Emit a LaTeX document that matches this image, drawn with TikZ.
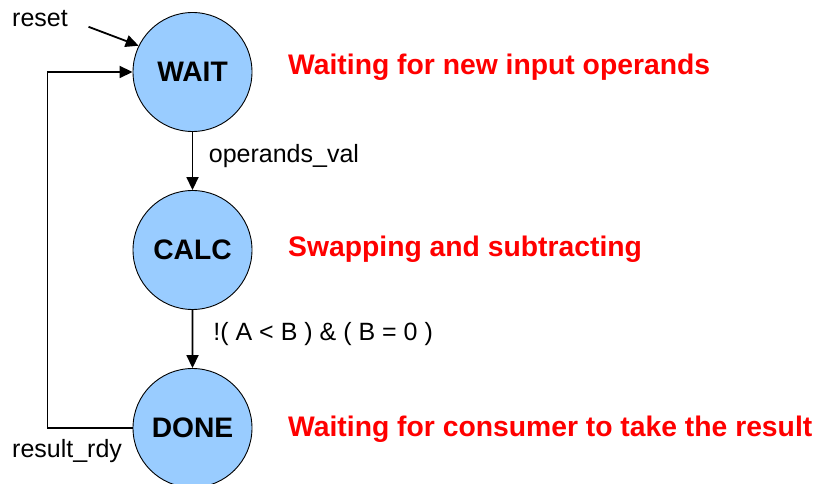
\documentclass[tikz,border=0pt]{standalone}
\usepackage{fontspec}
\setmainfont{Liberation Sans}
\usepackage{tikz}
\usetikzlibrary{trees, arrows.meta, positioning}
\definecolor{stateblue}{HTML}{99CCFF}
\definecolor{notered}{HTML}{FF0000}

\begin{document}
\begin{tikzpicture}[x=1pt, y=1pt,
    state/.style={circle, draw=black, line width=0.9pt, fill=stateblue, minimum size=119pt, inner sep=0pt,
      font=\fontsize{28.2}{32}\selectfont\bfseries},
    lbl/.style={inner sep=0pt, font=\fontsize{25}{28}\selectfont},
    note/.style={inner sep=0pt, anchor=base west, text=notered, font=\fontsize{28.3}{32}\selectfont\bfseries},
    arr/.style={line width=1.8pt, -{Triangle[length=13pt, width=12pt]}},
    level distance=178pt,
    edge from parent/.style={draw, arr}]
  \useasboundingbox (0,0) rectangle (815,-484);

  \node[state] (wait) at (192.5,-72) {WAIT}
    child {
      node[state] (calc) {CALC}
        child {
          node[state] (done) {DONE}
          edge from parent node[lbl, anchor=base west, xshift=20pt, yshift=-1pt] (condlbl) {!( A < B ) \& ( B = 0 )}
        }
      edge from parent node[lbl, anchor=base west, xshift=15.5pt, yshift=-2pt] (vallbl) {operands\_val}
    };

  \node[lbl, anchor=base west] (resetlbl) at (12,-27) {reset};
  \draw[arr, shorten <=22pt] (resetlbl.east) -- (wait.154);

  \draw[arr] (done.west) -- ++(-85pt,0) |- (wait.west);
  \node[lbl, anchor=base west] (rdylbl) at (12,-457) {result\_rdy};

  \node[note] (waitnote) at (288,-75) {Waiting for new input operands};
  \node[note] (calcnote) at (288,-257) {Swapping and subtracting};
  \node[note] (donenote) at (288,-436) {Waiting for consumer to take the result};
\end{tikzpicture}
\end{document}
